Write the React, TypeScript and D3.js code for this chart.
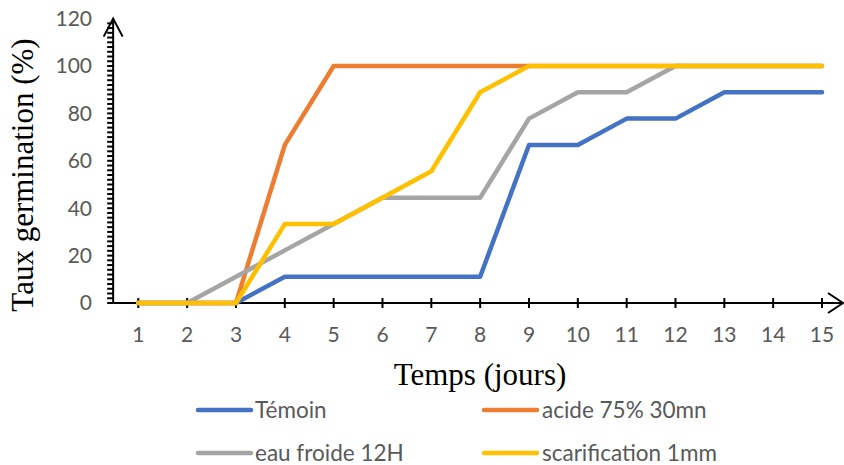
import React from "react";
import * as d3 from "d3";

const days = [1, 2, 3, 4, 5, 6, 7, 8, 9, 10, 11, 12, 13, 14, 15];
const temoin = [0, 0, 0, 11.1, 11.1, 11.1, 11.1, 11.1, 66.7, 66.7, 77.8, 77.8, 88.9, 88.9, 88.9];
const acide = [0, 0, 0, 66.7, 100, 100, 100, 100, 100, 100, 100, 100, 100, 100, 100];
const eauFroide = [0, 0, 11.1, 22.2, 33.3, 44.4, 44.4, 44.4, 77.8, 88.9, 88.9, 100, 100, 100, 100];
const scarification = [0, 0, 0, 33.3, 33.3, 44.4, 55.6, 88.9, 100, 100, 100, 100, 100, 100, 100];
const seriesNames = ["Témoin", "acide 75% 30mn", "eau froide 12H", "scarification 1mm"];
const seriesColors = ["#4472C4", "#ED7D31", "#A5A5A5", "#FFC000"];
const yTicks = [0, 20, 40, 60, 80, 100, 120];
const yMinorTicks = d3.range(0, 120, 2);

export default function App() {
  const W = 844;
  const H = 465;
  const x = d3.scaleLinear().domain([1, 15]).range([138.3, 822]);
  const y = d3.scaleLinear().domain([0, 120]).range([303, 18.6]);
  const axisX0 = x(0.485);
  const axisX1 = 843;
  const series = [temoin, acide, eauFroide, scarification];
  const line = d3
    .line<number>()
    .x((_, i) => x(days[i]))
    .y((d) => y(d));
  const tickFont = "Lato, 'Open Sans', sans-serif";
  const legendPos = [
    { sx: 198, tx: 255, y: 410 },
    { sx: 484, tx: 542, y: 410 },
    { sx: 198, tx: 255, y: 453 },
    { sx: 484, tx: 542, y: 453 },
  ];
  return (
    <svg
      width={W}
      height={H}
      style={{ position: "absolute", left: 0, top: 0, background: "#fff" }}
    >
      {/* y axis */}
      {yMinorTicks.map((t) => (
        <line key={"m" + t} x1={axisX0 - 6} x2={axisX0} y1={y(t)} y2={y(t)} stroke="#000" strokeWidth={2} />
      ))}
      <line x1={axisX0} x2={axisX0} y1={y(0)} y2={y(120)} stroke="#000" strokeWidth={2} />
      <polyline
        points={`${axisX0 - 9.5},${y(120) + 18} ${axisX0},${y(120)} ${axisX0 + 9.5},${y(120) + 18}`}
        fill="none"
        stroke="#000"
        strokeWidth={2}
      />
      {yTicks.map((t) => (
        <text
          key={"yl" + t}
          x={92}
          y={y(t)}
          dy="0.35em"
          textAnchor="end"
          fontFamily={tickFont}
          fontSize={21}
          fill="#595959"
        >
          {t}
        </text>
      ))}
      {/* x axis */}
      <line x1={axisX0} x2={axisX1} y1={y(0)} y2={y(0)} stroke="#000" strokeWidth={2} />
      {days.map((d) => (
        <line key={"xt" + d} x1={x(d)} x2={x(d)} y1={y(0) - 5} y2={y(0) + 5} stroke="#000" strokeWidth={2} />
      ))}
      <polyline
        points={`${axisX1 - 15},${y(0) - 10} ${axisX1},${y(0)} ${axisX1 - 15},${y(0) + 10}`}
        fill="none"
        stroke="#000"
        strokeWidth={2}
      />
      {days.map((d) => (
        <text
          key={"xl" + d}
          x={x(d)}
          y={342}
          textAnchor="middle"
          fontFamily={tickFont}
          fontSize={21}
          fill="#595959"
        >
          {d}
        </text>
      ))}
      {/* series */}
      {series.map((s, i) => (
        <path
          key={"s" + i}
          d={line(s) || ""}
          fill="none"
          stroke={seriesColors[i]}
          strokeWidth={4.5}
          strokeLinecap="round"
          strokeLinejoin="round"
        />
      ))}
      {/* titles */}
      <text
        x={480}
        y={385}
        textAnchor="middle"
        fontFamily="'Liberation Serif', 'Times New Roman', serif"
        fontSize={31}
        fill="#000"
      >
        Temps (jours)
      </text>
      <text
        transform="translate(33,175) rotate(-90)"
        textAnchor="middle"
        fontFamily="'Liberation Serif', 'Times New Roman', serif"
        fontSize={31}
        fill="#000"
      >
        Taux germination (%)
      </text>
      {/* legend */}
      {seriesNames.map((n, i) => (
        <g key={"lg" + i}>
          <line
            x1={legendPos[i].sx}
            x2={legendPos[i].sx + 53}
            y1={legendPos[i].y}
            y2={legendPos[i].y}
            stroke={seriesColors[i]}
            strokeWidth={4.5}
            strokeLinecap="round"
          />
          <text
            x={legendPos[i].tx}
            y={legendPos[i].y}
            dy="0.35em"
            fontFamily={tickFont}
            fontSize={22.5}
            fill="#595959"
          >
            {n}
          </text>
        </g>
      ))}
    </svg>
  );
}
